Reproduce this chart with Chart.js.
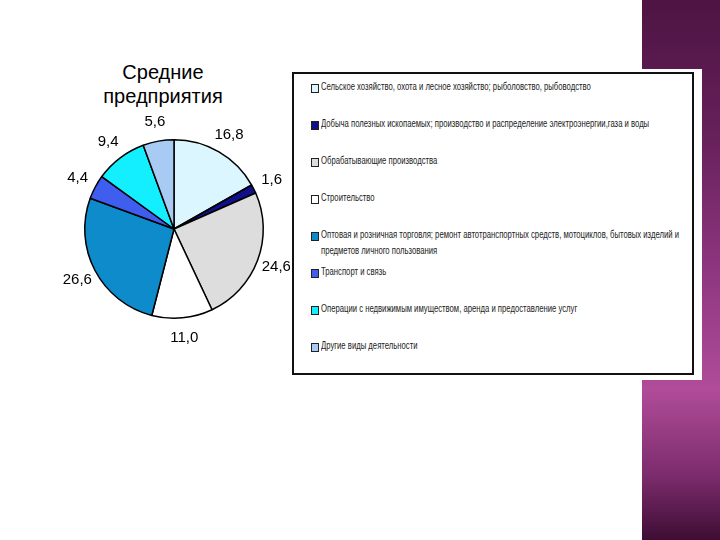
<!DOCTYPE html>
<html>
<head>
<meta charset="utf-8">
<script src="https://cdn.jsdelivr.net/npm/chart.js@4.4.0/dist/chart.umd.min.js"></script>
<style>
    body { margin: 0; width: 720px; height: 540px; background: #fff; position: relative; overflow: hidden; font-family: Arial, "Liberation Sans", sans-serif; }
    #stripe { position: absolute; left: 642px; top: 0; width: 78px; height: 540px;
        background: linear-gradient(to bottom, #4e1443 0%, #66205a 25%, #8e3680 50%, #b04c9a 72%, #7c2c6c 88%, #3e0d34 100%); }
    #title { position: absolute; left: 43px; top: 60px; width: 240px; text-align: center; font-size: 20px; line-height: 24px; color: #000; }
    #pie { position: absolute; left: 44px; top: 99px; }
    #legend-back { position: absolute; left: 290px; top: 69px; width: 412px; height: 311px; background: #fff; }
    #legend { position: absolute; left: 292px; top: 72px; width: 398px; height: 299px; border: 2px solid #111; background: #fff; }
    .item { position: relative; height: 37px; }
    .box { position: absolute; left: 17px; top: 10px; width: 6px; height: 7px; border: 1px solid #222; }
    .txt { position: absolute; left: 27px; top: 5px; width: 468px; font-family: Arial, "Liberation Sans", sans-serif; font-size: 10px; line-height: 16px; color: #222;
        transform: scaleX(0.77); transform-origin: left top; }
</style>
</head>
<body>
<div id="stripe"></div>
<div id="title">Средние<br>предприятия</div>
<canvas id="pie" width="260" height="260"></canvas>
<div id="legend-back"></div>
<div id="legend"></div>

<script>
// Branches of activity (legend order = slice order)
const branches = [
    'Сельское хозяйство, охота и лесное хозяйство; рыболовство, рыбоводство',
    'Добыча полезных ископаемых; производство и распределение электроэнергии,газа и воды',
    'Обрабатывающие производства',
    'Строительство',
    'Оптовая и розничная торговля; ремонт автотранспортных средств, мотоциклов, бытовых изделий и предметов личного пользования',
    'Транспорт и связь',
    'Операции с недвижимым имуществом, аренда и предоставление услуг',
    'Другие виды деятельности'
];
// Share of medium enterprises, %
const shares = [16.8, 1.6, 24.6, 11.0, 26.6, 4.4, 9.4, 5.6];
const colors = ['#dcf6ff', '#10108a', '#dddddd', '#ffffff', '#0d8bca', '#3f5ef0', '#14efff', '#a8cbf3'];


// Value labels drawn outside of each slice
const outsideLabels = {
    id: 'outsideLabels',
    afterDatasetsDraw(chart) {
        const ctx = chart.ctx;
        const arcs = chart.getDatasetMeta(0).data;
        ctx.save();
        ctx.font = '15px Arial, "Liberation Sans", sans-serif';
        ctx.fillStyle = '#000';
        ctx.textAlign = 'center';
        ctx.textBaseline = 'middle';
        for (let i = 0; i < arcs.length; i++) {
            const a = arcs[i];
            const mid = (a.startAngle + a.endAngle) / 2;
            const r = a.outerRadius + 20;
            const x = a.x + Math.cos(mid) * r;
            const y = a.y + Math.sin(mid) * r;
            ctx.fillText(shares[i].toFixed(1).replace('.', ','), x, y);
        }
        ctx.restore();
    }
};


document.addEventListener('DOMContentLoaded', function() {
    DrawPie();
    BuildLegend();
})


function DrawPie() {
    new Chart(document.getElementById('pie'), {
        type: 'pie',
        data: {
            labels: branches,
            datasets: [{
                data: shares,
                backgroundColor: colors,
                borderColor: '#000',
                borderWidth: 1.5
            }]
        },
        options: {
            responsive: false,
            animation: false,
            layout: { padding: 40 },
            plugins: {
                legend: { display: false },
                tooltip: { enabled: false }
            }
        },
        plugins: [outsideLabels]
    });
}


function BuildLegend() {
    const legend = document.getElementById('legend');
    for (let i = 0; i < branches.length; i++) {
        const item = document.createElement('div');
        item.className = 'item';
        const box = document.createElement('div');
        box.className = 'box';
        box.style.background = colors[i];
        const txt = document.createElement('div');
        txt.className = 'txt';
        txt.textContent = branches[i];
        item.appendChild(box);
        item.appendChild(txt);
        legend.appendChild(item);
    }
}
</script>
</body>
</html>
